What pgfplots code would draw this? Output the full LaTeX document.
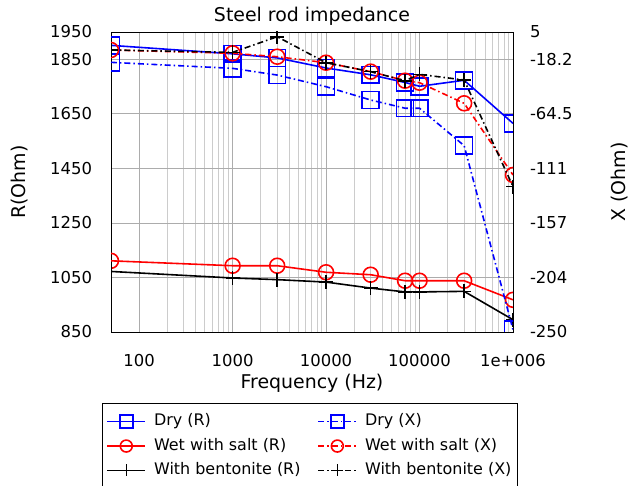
\documentclass[border=0pt]{standalone}
\usepackage{pgfplots}
\pgfplotsset{compat=1.18}
\usepackage{fontspec}
\setmainfont{DejaVu Sans}

\definecolor{dryblue}{RGB}{0,0,255}
\definecolor{wetred}{RGB}{255,0,0}

\tikzset{
  dashdot/.style={dash pattern=on 6pt off 3pt on 1.5pt off 3pt},
  dryR/.style={color=dryblue, line width=1.6pt, mark=square, mark size=8.5pt, mark options={solid}},
  dryX/.style={color=dryblue, line width=1.6pt, dashdot, mark=square, mark size=8.5pt, mark options={solid}},
  wetR/.style={color=wetred, line width=1.6pt, mark=o, mark size=7.5pt, mark options={solid}},
  wetX/.style={color=wetred, line width=1.6pt, dashdot, mark=o, mark size=7.5pt, mark options={solid}},
  benR/.style={color=black, line width=1.6pt, mark=+, mark size=7pt, mark options={solid}},
  benX/.style={color=black, line width=1.6pt, dashdot, mark=+, mark size=7pt, mark options={solid}},
}

\begin{document}
\begin{tikzpicture}
% Resistance (left scale)
\begin{axis}[
  scale only axis, width=402bp, height=300bp,
  at={(0,0)}, anchor=south west,
  xmode=log, xmin=50, xmax=1e6,
  clip marker paths=true,
  /pgf/number format/assume math mode=true,
  major tick length=0pt, minor tick length=0pt,
  tick style={draw=none},
  axis line style={black, line width=0.9pt},
  every tick label/.append style={font=\fontsize{16.5}{19}\selectfont},
  label style={font=\fontsize{19}{22}\selectfont},
  ymin=850, ymax=1950,
  ytick={850,1050,1250,1450,1650,1850,1950},
  yticklabels={850,1050,1250,1450,1650,1850,1950},
  xtick={100,1000,10000,100000,1000000},
  xticklabels={100,1000,10000,100000,1e+006},
  xticklabel style={yshift=-19bp},
  yticklabel style={xshift=-15.5bp},
  xmajorgrids, xminorgrids, ymajorgrids,
  major grid style={gray!65, line width=0.7pt},
  minor grid style={gray!40, line width=0.7pt},
  title={Steel rod impedance},
  title style={at={(axis description cs:0.5,1.057)}, anchor=center, yshift=-7bp,
    font=\fontsize{19}{22}\selectfont},
  xlabel={Frequency (Hz)},
  xlabel style={at={(axis description cs:0.5,-0.17)}, anchor=center},
  ylabel={R(Ohm)},
  ylabel style={at={(axis description cs:-0.2264,0.5)}, anchor=center},
  legend columns=2,
  legend cell align=left,
  legend style={
    at={(axis description cs:-0.0216,-0.2367)}, anchor=north west,
    draw=black, fill=white,
    font=\fontsize{16}{19}\selectfont,
    inner xsep=4pt, inner ysep=8.5pt,
    row sep=4.5pt,
    nodes={inner sep=2pt, text height=12pt, text depth=4pt},
    /tikz/every odd column/.append style={column sep=6bp},
    /tikz/every even column/.append style={column sep=15bp},
  },
  legend image code/.code={%
    \draw[mark repeat=2, mark phase=2, #1]
      plot coordinates {(0bp,0bp) (19bp,0bp) (38bp,0bp)};},
]
% legend entries, in row order
\addlegendimage{dryR, mark size=6.5pt}
\addlegendentry{Dry (R)}
\addlegendimage{dryX, mark size=6.5pt}
\addlegendentry{Dry (X)}
\addlegendimage{wetR, mark size=6pt}
\addlegendentry{Wet with salt (R)}
\addlegendimage{wetX, mark size=6pt}
\addlegendentry{Wet with salt (X)}
\addlegendimage{benR, mark size=6pt}
\addlegendentry{With bentonite (R)}
\addlegendimage{benX, mark size=6pt}
\addlegendentry{With bentonite (X)}

\addplot[dryR, forget plot] coordinates {
  (50,1901) (1000,1870) (3000,1855) (10000,1818) (30000,1793)
  (70000,1765) (100000,1751) (300000,1773) (1000000,1615)};
\addplot[wetR, forget plot] coordinates {
  (50,1111) (1000,1093) (3000,1093) (10000,1069) (30000,1060)
  (70000,1038) (100000,1038) (300000,1038) (1000000,968)};
\addplot[benR, forget plot] coordinates {
  (50,1072) (1000,1048) (3000,1042) (10000,1033) (30000,1011)
  (70000,997) (100000,997) (300000,999) (1000000,895)};
\end{axis}

% Reactance (right scale)
\begin{axis}[
  scale only axis, width=402bp, height=300bp,
  at={(0,0)}, anchor=south west,
  xmode=log, xmin=50, xmax=1e6,
  clip marker paths=true,
  /pgf/number format/assume math mode=true,
  major tick length=0pt, minor tick length=0pt,
  tick style={draw=none},
  axis line style={black, line width=0.9pt},
  every tick label/.append style={font=\fontsize{16.5}{19}\selectfont},
  label style={font=\fontsize{19}{22}\selectfont},
  ymin=-250, ymax=5,
  axis x line=none,
  axis y line*=right,
  ytick={-250,-203.64,-157.27,-110.91,-64.55,-18.18,5},
  yticklabels={-250,-204,-157,-111,-64.5,-18.2,5},
  yticklabel style={xshift=13.5bp},
  ylabel={X (Ohm)},
  ylabel style={at={(axis description cs:1.266,0.5)}, anchor=center},
]
\addplot[dryX] coordinates {
  (50,-20.8) (1000,-25.9) (3000,-31.6) (10000,-41.5) (30000,-52.8)
  (70000,-59.8) (100000,-59.8) (300000,-91.6) (1000000,-248)};
\addplot[wetX] coordinates {
  (50,-10.3) (1000,-13.1) (3000,-16) (10000,-21.1) (30000,-28.7)
  (70000,-36.4) (100000,-38.1) (300000,-55.6) (1000000,-116.5)};
\addplot[benX] coordinates {
  (50,-10.3) (1000,-12.3) (3000,1) (10000,-21.1) (30000,-28.7)
  (70000,-36.4) (100000,-31) (300000,-35.8) (1000000,-126.4)};
\end{axis}

\pgfresetboundingbox
\path[use as bounding box] (-111bp,-153.7bp) rectangle (531bp,332bp);
\end{tikzpicture}
\end{document}
